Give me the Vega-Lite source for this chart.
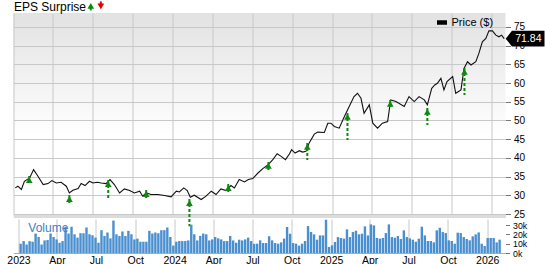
{
  "$schema": "https://vega.github.io/schema/vega-lite/v6.json",
  "padding": {"left": 6.5, "top": 0, "right": 0, "bottom": 0},
  "autosize": {"type": "pad"},
  "background": "white",
  "bounds": "flush",
  "spacing": 3,
  "config": {
    "font": "Liberation Sans",
    "view": {"stroke": null},
    "axis": {"gridColor": "#c8c8c8", "gridWidth": 1, "labelColor": "#000000", "labelFont": "Liberation Sans", "tickColor": "#777777", "domainColor": "#999999", "labelOverlap": false, "labelBound": false}
  },
  "datasets": {
    "price": [
      {"date":"2023-01-05","price":32.0},{"date":"2023-01-11","price":32.45},{"date":"2023-01-19","price":31.57},{"date":"2023-01-26","price":33.78},
      {"date":"2023-02-07","price":34.65},{"date":"2023-02-16","price":36.89},{"date":"2023-02-26","price":35.11},{"date":"2023-03-10","price":32.9},
      {"date":"2023-03-21","price":33.16},{"date":"2023-03-30","price":33.96},{"date":"2023-04-09","price":33.32},{"date":"2023-04-20","price":33.51},
      {"date":"2023-05-02","price":32.45},{"date":"2023-05-09","price":30.66},{"date":"2023-05-17","price":31.38},{"date":"2023-05-29","price":31.84},
      {"date":"2023-06-05","price":33.16},{"date":"2023-06-14","price":32.63},{"date":"2023-06-24","price":33.78},{"date":"2023-07-02","price":33.32},
      {"date":"2023-07-12","price":33.51},{"date":"2023-07-21","price":33.32},{"date":"2023-08-01","price":33.16},{"date":"2023-08-10","price":34.23},
      {"date":"2023-08-20","price":32.9},{"date":"2023-09-01","price":30.66},{"date":"2023-09-12","price":31.73},{"date":"2023-09-24","price":31.3},
      {"date":"2023-10-05","price":30.66},{"date":"2023-10-17","price":31.12},{"date":"2023-10-24","price":29.79},{"date":"2023-11-01","price":30.66},
      {"date":"2023-11-12","price":30.24},{"date":"2023-11-28","price":30.24},{"date":"2023-12-13","price":29.97},{"date":"2023-12-28","price":29.6},
      {"date":"2024-01-09","price":31.12},{"date":"2024-01-16","price":30.93},{"date":"2024-01-26","price":32.0},{"date":"2024-02-03","price":31.3},
      {"date":"2024-02-10","price":29.52},{"date":"2024-02-19","price":30.05},{"date":"2024-03-06","price":28.91},{"date":"2024-03-17","price":29.79},
      {"date":"2024-03-29","price":31.12},{"date":"2024-04-09","price":30.24},{"date":"2024-04-20","price":31.73},{"date":"2024-05-02","price":31.3},
      {"date":"2024-05-13","price":32.63},{"date":"2024-05-21","price":32.0},{"date":"2024-06-01","price":34.23},{"date":"2024-06-13","price":33.59},
      {"date":"2024-06-22","price":34.23},{"date":"2024-07-02","price":34.5},{"date":"2024-07-14","price":35.98},{"date":"2024-07-25","price":37.15},
      {"date":"2024-08-05","price":38.03},{"date":"2024-08-17","price":39.55},{"date":"2024-08-27","price":41.14},{"date":"2024-09-05","price":40.43},
      {"date":"2024-09-15","price":39.55},{"date":"2024-09-24","price":41.04},{"date":"2024-09-29","price":42.21},{"date":"2024-10-07","price":41.3},
      {"date":"2024-10-17","price":41.94},{"date":"2024-10-24","price":41.57},{"date":"2024-11-01","price":41.76},{"date":"2024-11-08","price":43.96},
      {"date":"2024-11-20","price":46.36},{"date":"2024-11-28","price":46.89},{"date":"2024-12-13","price":46.81},{"date":"2024-12-21","price":49.28},
      {"date":"2024-12-28","price":49.28},{"date":"2025-01-05","price":48.4},{"date":"2025-01-16","price":47.95},{"date":"2025-01-28","price":51.06},
      {"date":"2025-02-08","price":53.72},{"date":"2025-02-19","price":56.38},{"date":"2025-02-27","price":57.26},{"date":"2025-03-07","price":55.93},
      {"date":"2025-03-14","price":51.94},{"date":"2025-03-26","price":54.18},{"date":"2025-04-03","price":49.28},{"date":"2025-04-14","price":47.95},
      {"date":"2025-04-25","price":49.28},{"date":"2025-05-07","price":49.73},{"date":"2025-05-14","price":55.51},{"date":"2025-05-26","price":55.05},
      {"date":"2025-06-14","price":53.72},{"date":"2025-06-25","price":56.38},{"date":"2025-07-07","price":55.05},{"date":"2025-07-18","price":56.38},
      {"date":"2025-07-30","price":55.51},{"date":"2025-08-06","price":54.18},{"date":"2025-08-16","price":58.59},{"date":"2025-08-23","price":59.49},
      {"date":"2025-08-29","price":59.92},{"date":"2025-09-06","price":61.25},{"date":"2025-09-13","price":58.16},{"date":"2025-09-20","price":60.37},
      {"date":"2025-10-03","price":61.7},{"date":"2025-10-10","price":57.26},{"date":"2025-10-22","price":58.16},{"date":"2025-10-29","price":63.91},
      {"date":"2025-11-06","price":65.69},{"date":"2025-11-14","price":64.81},{"date":"2025-11-25","price":65.69},{"date":"2025-12-02","price":67.9},
      {"date":"2025-12-10","price":71.01},{"date":"2025-12-18","price":71.89},{"date":"2025-12-25","price":73.94},{"date":"2026-01-02","price":73.94},
      {"date":"2026-01-10","price":72.79},{"date":"2026-01-17","price":72.34},{"date":"2026-01-23","price":72.79},{"date":"2026-01-29","price":71.84}
    ],
    "eps": [
      {"date":"2023-02-06","head":35.16,"tail":33.29},
      {"date":"2023-05-09","head":30.08,"tail":27.94},
      {"date":"2023-08-06","head":34.09,"tail":29.28},
      {"date":"2023-11-01","head":31.42,"tail":29.28},
      {"date":"2024-02-08","head":29.01,"tail":21.79},
      {"date":"2024-05-07","head":33.02,"tail":30.88},
      {"date":"2024-08-07","head":38.9,"tail":36.76},
      {"date":"2024-11-04","head":43.98,"tail":39.44},
      {"date":"2025-02-04","head":52.01,"tail":44.79},
      {"date":"2025-05-13","head":55.48,"tail":53.61},
      {"date":"2025-08-06","head":53.34,"tail":48.8},
      {"date":"2025-10-30","head":64.04,"tail":56.82}
    ],
    "volume": [
      {"date":"2023-01-06","volume":9900},{"date":"2023-01-13","volume":12800},{"date":"2023-01-20","volume":9100},{"date":"2023-01-27","volume":12800},
      {"date":"2023-02-03","volume":12100},{"date":"2023-02-10","volume":20900},{"date":"2023-02-17","volume":17200},{"date":"2023-02-24","volume":9100},
      {"date":"2023-03-03","volume":13500},{"date":"2023-03-10","volume":13900},{"date":"2023-03-17","volume":20900},{"date":"2023-03-24","volume":17200},
      {"date":"2023-03-31","volume":14600},{"date":"2023-04-07","volume":11000},{"date":"2023-04-14","volume":12800},{"date":"2023-04-21","volume":28200},
      {"date":"2023-04-28","volume":20900},{"date":"2023-05-05","volume":28200},{"date":"2023-05-12","volume":20100},{"date":"2023-05-19","volume":16500},
      {"date":"2023-05-26","volume":21200},{"date":"2023-06-02","volume":21200},{"date":"2023-06-09","volume":27400},{"date":"2023-06-16","volume":20100},
      {"date":"2023-06-23","volume":19000},{"date":"2023-06-30","volume":16500},{"date":"2023-07-07","volume":11000},{"date":"2023-07-14","volume":24500},
      {"date":"2023-07-21","volume":18300},{"date":"2023-07-28","volume":22000},{"date":"2023-08-04","volume":15700},{"date":"2023-08-11","volume":34800},
      {"date":"2023-08-18","volume":20100},{"date":"2023-08-25","volume":18300},{"date":"2023-09-01","volume":23100},{"date":"2023-09-08","volume":18300},
      {"date":"2023-09-15","volume":23800},{"date":"2023-09-22","volume":20100},{"date":"2023-09-29","volume":14600},{"date":"2023-10-06","volume":15400},
      {"date":"2023-10-13","volume":12100},{"date":"2023-10-20","volume":12100},{"date":"2023-10-27","volume":12100},{"date":"2023-11-03","volume":23800},
      {"date":"2023-11-10","volume":20900},{"date":"2023-11-17","volume":22000},{"date":"2023-11-24","volume":21200},{"date":"2023-12-01","volume":24500},
      {"date":"2023-12-08","volume":24500},{"date":"2023-12-15","volume":27400},{"date":"2023-12-22","volume":17200},{"date":"2023-12-29","volume":8000},
      {"date":"2024-01-05","volume":12100},{"date":"2024-01-12","volume":12800},{"date":"2024-01-19","volume":12800},{"date":"2024-01-26","volume":12800},
      {"date":"2024-02-02","volume":13500},{"date":"2024-02-09","volume":30400},{"date":"2024-02-16","volume":20100},{"date":"2024-02-23","volume":13500},
      {"date":"2024-03-01","volume":18300},{"date":"2024-03-08","volume":20900},{"date":"2024-03-15","volume":20100},{"date":"2024-03-22","volume":13500},
      {"date":"2024-03-29","volume":14600},{"date":"2024-04-05","volume":17200},{"date":"2024-04-12","volume":15700},{"date":"2024-04-19","volume":14600},
      {"date":"2024-04-26","volume":12800},{"date":"2024-05-03","volume":12800},{"date":"2024-05-10","volume":18300},{"date":"2024-05-17","volume":13500},
      {"date":"2024-05-24","volume":11000},{"date":"2024-05-31","volume":14300},{"date":"2024-06-07","volume":13500},{"date":"2024-06-14","volume":14600},
      {"date":"2024-06-21","volume":16500},{"date":"2024-06-28","volume":12800},{"date":"2024-07-05","volume":9900},{"date":"2024-07-12","volume":10000},
      {"date":"2024-07-19","volume":13600},{"date":"2024-07-26","volume":10700},{"date":"2024-08-02","volume":10700},{"date":"2024-08-09","volume":17900},
      {"date":"2024-08-16","volume":13600},{"date":"2024-08-23","volume":10700},{"date":"2024-08-30","volume":10000},{"date":"2024-09-06","volume":11400},
      {"date":"2024-09-13","volume":15400},{"date":"2024-09-20","volume":27900},{"date":"2024-09-27","volume":20700},{"date":"2024-10-04","volume":10700},
      {"date":"2024-10-11","volume":10000},{"date":"2024-10-18","volume":7900},{"date":"2024-10-25","volume":10000},{"date":"2024-11-01","volume":12900},
      {"date":"2024-11-08","volume":28900},{"date":"2024-11-15","volume":22500},{"date":"2024-11-22","volume":20000},{"date":"2024-11-29","volume":14300},
      {"date":"2024-12-06","volume":18900},{"date":"2024-12-13","volume":18900},{"date":"2024-12-20","volume":35700},{"date":"2024-12-27","volume":6400},
      {"date":"2025-01-03","volume":8200},{"date":"2025-01-10","volume":11800},{"date":"2025-01-17","volume":17100},{"date":"2025-01-24","volume":16100},
      {"date":"2025-01-31","volume":15400},{"date":"2025-02-07","volume":25400},{"date":"2025-02-14","volume":17100},{"date":"2025-02-21","volume":22500},
      {"date":"2025-02-28","volume":23900},{"date":"2025-03-07","volume":20000},{"date":"2025-03-14","volume":20700},{"date":"2025-03-21","volume":28600},
      {"date":"2025-03-28","volume":18900},{"date":"2025-04-04","volume":30700},{"date":"2025-04-11","volume":29600},{"date":"2025-04-18","volume":16100},
      {"date":"2025-04-25","volume":15400},{"date":"2025-05-02","volume":16100},{"date":"2025-05-09","volume":21400},{"date":"2025-05-16","volume":30700},
      {"date":"2025-05-23","volume":17100},{"date":"2025-05-30","volume":16400},{"date":"2025-06-06","volume":18200},{"date":"2025-06-13","volume":15000},
      {"date":"2025-06-20","volume":24300},{"date":"2025-06-27","volume":17100},{"date":"2025-07-04","volume":15700},{"date":"2025-07-11","volume":14300},
      {"date":"2025-07-18","volume":12100},{"date":"2025-07-25","volume":15400},{"date":"2025-08-01","volume":28200},{"date":"2025-08-08","volume":18900},
      {"date":"2025-08-15","volume":12900},{"date":"2025-08-22","volume":12900},{"date":"2025-08-29","volume":11400},{"date":"2025-09-05","volume":24300},
      {"date":"2025-09-12","volume":27100},{"date":"2025-09-19","volume":22500},{"date":"2025-09-26","volume":21400},{"date":"2025-10-03","volume":13600},
      {"date":"2025-10-10","volume":12900},{"date":"2025-10-17","volume":10000},{"date":"2025-10-24","volume":21800},{"date":"2025-10-31","volume":21400},
      {"date":"2025-11-07","volume":17100},{"date":"2025-11-14","volume":15000},{"date":"2025-11-21","volume":13600},{"date":"2025-11-28","volume":17900},
      {"date":"2025-12-05","volume":20000},{"date":"2025-12-12","volume":22100},{"date":"2025-12-19","volume":10000},{"date":"2025-12-26","volume":7500},
      {"date":"2026-01-02","volume":16100},{"date":"2026-01-09","volume":16100},{"date":"2026-01-16","volume":16100},{"date":"2026-01-23","volume":11400},
      {"date":"2026-01-30","volume":14300}
    ]
  },
  "resolve": {"scale": {"y": "independent", "color": "independent"}},
  "vconcat": [
    {
      "width": 492,
      "height": 203,
      "view": {"stroke": null, "fill": {"gradient": "linear", "x1": 0, "y1": 0, "x2": 0, "y2": 1, "stops": [{"offset": 0, "color": "#e2e2e2"}, {"offset": 0.6, "color": "#ffffff"}, {"offset": 1, "color": "#ffffff"}]}},
      "layer": [
        {
          "data": {"name": "price"},
          "mark": {"type": "line", "strokeWidth": 1.1},
          "encoding": {
            "x": {
              "field": "date", "type": "temporal", "title": null,
              "scale": {"type": "utc", "domain": [{"year": 2023, "month": 1, "date": 1, "utc": true}, {"year": 2026, "month": 2, "date": 1, "utc": true}]},
              "axis": {"labels": false, "ticks": false, "domain": true, "domainColor": "#dcdcdc", "domainWidth": 3, "grid": true, "tickCount": {"interval": "month", "step": 3}}
            },
            "y": {"field": "price", "type": "quantitative", "title": null,
                  "scale": {"domain": [24.5, 78.7], "nice": false, "zero": false},
                  "axis": {"orient": "right", "values": [25, 30, 35, 40, 45, 50, 55, 60, 65, 70, 75], "tickCount": 11, "grid": true, "domain": false, "ticks": true, "tickSize": 5, "labelPadding": 3, "labelFontSize": 10, "labelOverlap": false}},
            "color": {"datum": "Price ($)", "type": "nominal", "scale": {"range": ["#111111"]},
                      "legend": {"title": null, "orient": "none", "legendX": 423, "legendY": 4, "padding": 0, "symbolType": "M-1,-0.45H1V0.45H-1Z", "symbolSize": 100, "symbolStrokeWidth": 0, "labelFontSize": 11, "labelOffset": 4,
                                 "encode": {"symbols": {"update": {"fill": {"value": "#000000"}, "stroke": {"value": "#000000"}}}}}}
          }
        },
        {
          "data": {"name": "eps"},
          "mark": {"type": "rule", "color": "#0e880e", "strokeWidth": 2, "strokeDash": [3, 2]},
          "encoding": {
            "x": {"field": "date", "type": "temporal", "title": null},
            "y": {"field": "head", "type": "quantitative", "title": null},
            "y2": {"field": "tail"}
          }
        },
        {
          "data": {"name": "eps"},
          "mark": {"type": "point", "shape": "triangle-up", "filled": true, "color": "#0e880e", "size": 45, "opacity": 1, "yOffset": 3.9},
          "encoding": {
            "x": {"field": "date", "type": "temporal", "title": null},
            "y": {"field": "head", "type": "quantitative", "title": null}
          }
        },
        {
          "data": {"name": "price"},
          "transform": [{"window": [{"op": "row_number", "as": "rn"}], "sort": [{"field": "date", "order": "descending"}]}, {"filter": "datum.rn == 1"}],
          "mark": {"type": "point", "shape": "M0,0L0.8,-1H4.95V1H0.8Z", "filled": true, "color": "#000000", "size": 246, "opacity": 1, "xOffset": 1.5},
          "encoding": {
            "x": {"field": "date", "type": "temporal", "title": null},
            "y": {"field": "price", "type": "quantitative", "title": null}
          }
        },
        {
          "data": {"name": "price"},
          "transform": [{"window": [{"op": "row_number", "as": "rn"}], "sort": [{"field": "date", "order": "descending"}]}, {"filter": "datum.rn == 1"}],
          "mark": {"type": "text", "color": "#ffffff", "fontSize": 10.5, "align": "left", "baseline": "middle", "dx": 11},
          "encoding": {
            "x": {"field": "date", "type": "temporal", "title": null},
            "y": {"field": "price", "type": "quantitative", "title": null},
            "text": {"field": "price", "type": "quantitative", "format": ".2f"}
          }
        },
        {
          "data": {"values": [{"label": "EPS Surprise"}]},
          "mark": {"type": "text", "fontSize": 12, "align": "left", "baseline": "alphabetic", "color": "#000000"},
          "encoding": {
            "x": {"datum": {"year": 2023, "month": 1, "date": 2, "utc": true}, "type": "temporal"},
            "y": {"datum": 79.2, "type": "quantitative"},
            "text": {"field": "label", "type": "nominal"}
          }
        },
        {
          "data": {"values": [{"label": "beat"}]},
          "mark": {"type": "rule", "color": "#0e880e", "strokeWidth": 2},
          "encoding": {
            "x": {"datum": {"year": 2023, "month": 6, "date": 27, "utc": true}, "type": "temporal"},
            "y": {"datum": 80.6, "type": "quantitative"},
            "y2": {"datum": 79.4}
          }
        },
        {
          "data": {"values": [{"label": "beat"}]},
          "mark": {"type": "point", "shape": "triangle-up", "filled": true, "color": "#0e880e", "size": 45, "opacity": 1, "yOffset": 3.9},
          "encoding": {
            "x": {"datum": {"year": 2023, "month": 6, "date": 27, "utc": true}, "type": "temporal"},
            "y": {"datum": 81.64, "type": "quantitative"}
          }
        },
        {
          "data": {"values": [{"label": "miss"}]},
          "mark": {"type": "rule", "color": "#e00000", "strokeWidth": 2},
          "encoding": {
            "x": {"datum": {"year": 2023, "month": 7, "date": 20, "utc": true}, "type": "temporal"},
            "y": {"datum": 81.8, "type": "quantitative"},
            "y2": {"datum": 80.5}
          }
        },
        {
          "data": {"values": [{"label": "miss"}]},
          "mark": {"type": "point", "shape": "triangle-down", "filled": true, "color": "#e00000", "size": 45, "opacity": 1, "yOffset": -3.9},
          "encoding": {
            "x": {"datum": {"year": 2023, "month": 7, "date": 20, "utc": true}, "type": "temporal"},
            "y": {"datum": 79.42, "type": "quantitative"}
          }
        }
      ]
    },
    {
      "width": 492,
      "height": 34,
      "view": {"stroke": null},
      "layer": [
        {
          "data": {"name": "volume"},
          "mark": {"type": "bar", "size": 2.4, "color": "#4a8fd0"},
          "encoding": {
            "x": {
              "field": "date", "type": "temporal", "title": null,
              "scale": {"type": "utc", "domain": [{"year": 2023, "month": 1, "date": 1, "utc": true}, {"year": 2026, "month": 2, "date": 1, "utc": true}]},
              "axis": {"grid": true, "ticks": false, "domain": true, "domainColor": "#aaaaaa", "labelFlush": false, "labelOverlap": false, "labelFontSize": 10.5, "labelPadding": 2,
                       "tickCount": {"interval": "month", "step": 3},
                       "labelExpr": "utcmonth(datum.value) === 0 ? utcFormat(datum.value, '%Y') : utcFormat(datum.value, '%b')"}
            },
            "y": {"field": "volume", "type": "quantitative", "title": null,
                  "scale": {"domain": [0, 36500], "nice": false},
                  "axis": {"orient": "right", "values": [0, 10000, 20000, 30000], "tickCount": 4, "format": "~s", "grid": false, "domain": false, "ticks": true, "tickSize": 4, "labelPadding": 3, "labelFontSize": 8.8, "labelOverlap": false}}
          }
        },
        {
          "data": {"values": [{"label": "Volume"}]},
          "mark": {"type": "text", "fontSize": 12, "align": "left", "baseline": "middle", "color": "#3e80c2"},
          "encoding": {
            "x": {"datum": {"year": 2023, "month": 1, "date": 24, "utc": true}, "type": "temporal"},
            "y": {"datum": 27000, "type": "quantitative"},
            "text": {"field": "label", "type": "nominal"}
          }
        }
      ]
    }
  ]
}
